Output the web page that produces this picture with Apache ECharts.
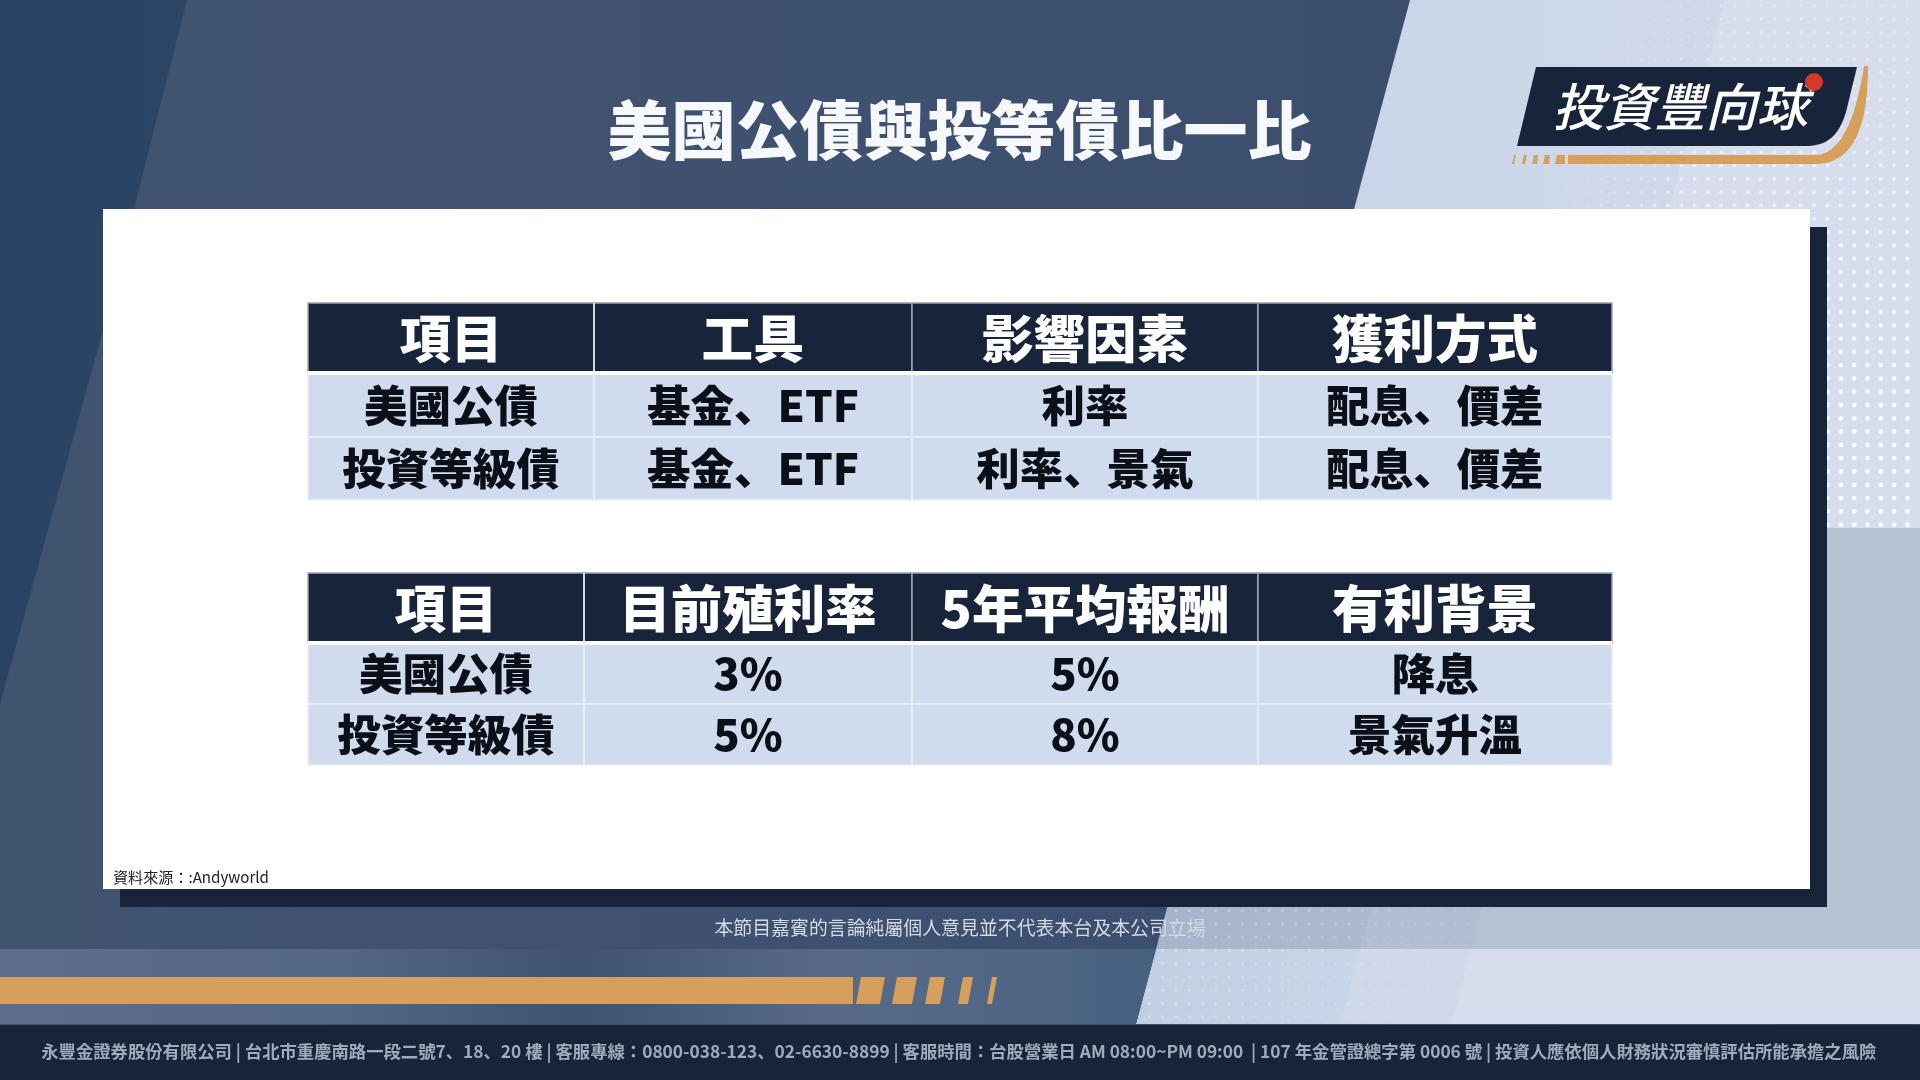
<!DOCTYPE html>
<html lang="zh-Hant"><head><meta charset="utf-8"><title>美國公債與投等債比一比</title>
<style>html,body{margin:0;padding:0;background:#3f5170}#chart{width:1920px;height:1080px}</style>
<script src="https://cdn.jsdelivr.net/npm/echarts@6/dist/echarts.min.js"></script></head>
<body><div id="chart" lang="ja"></div>
<script>
const titleText = '美國公債與投等債比一比';
const logoText = '投資豐向球';
const cornerLabel = '項目';
const rowLabels = ['美國公債', '投資等級債'];
const table1Columns = ['工具', '影響因素', '獲利方式'];
const table1Row1 = ['基金、ETF', '利率', '配息、價差'];
const table1Row2 = ['基金、ETF', '利率、景氣', '配息、價差'];
const table2Columns = ['目前殖利率', '5年平均報酬', '有利背景'];
const table2Row1 = ['3%', '5%', '降息'];
const table2Row2 = ['5%', '8%', '景氣升溫'];
const sourceText = '資料來源：:Andyworld';
const disclaimerText = '本節目嘉賓的言論純屬個人意見並不代表本台及本公司立場';
const footerText = '永豐金證券股份有限公司 | 台北市重慶南路一段二號7、18、20 樓 | 客服專線：0800-038-123、02-6630-8899 | 客服時間：台股營業日 AM 08:00~PM 09:00  | 107 年金管證總字第 0006 號 | 投資人應依個人財務狀況審慎評估所能承擔之風險';

const FONT = '"Noto Sans CJK JP"';
const NAVY = '#17243a', ROW = '#d0dcee', ORANGE = '#d69f5c';
const LG = (stops, horizontal = true) => new echarts.graphic.LinearGradient(0, 0, horizontal ? 1 : 0, horizontal ? 0 : 1,
  stops.map(([offset, color]) => ({ offset, color })));

function dotsCanvas() {
  const c = document.createElement('canvas'); c.width = 1920; c.height = 1080;
  const g = c.getContext('2d'); const step = 13.3;
  for (let y = 6; y < 1024; y += step) for (let x = 1136; x < 1920; x += step) {
    let a = 0;
    if (y < 528) {
      const edge = 1563 + (208 - y) * 0.2676;
      const t = Math.min(1, (x - edge + 10) / 130);
      if (t > 0) a = t * (0.25 + 0.65 * Math.min(1, y / 420));
    } else if (y > 908) {
      const edge = 1136 + (1024 - y) * 0.2676;
      const t = 1 - (x - edge) / 420;
      if (x > edge + 4 && t > 0) a = 0.26 * t;
    }
    if (a > 0) { g.fillStyle = `rgba(255,255,255,${a})`; g.beginPath(); g.arc(x, y, 1.5 + a, 0, 7); g.fill(); }
  }
  return c;
}
// sampled cubic curve for the logo outline (the graphic component has no free path element)
function cubic(p0, p1, p2, p3, n = 24) {
  const out = [];
  for (let i = 0; i <= n; i++) {
    const t = i / n, u = 1 - t;
    out.push([0, 1].map(k => u*u*u*p0[k] + 3*u*u*t*p1[k] + 3*u*t*t*p2[k] + t*t*t*p3[k]));
  }
  return out;
}

const poly = (points, fill) => ({ type: 'polygon', shape: { points }, style: { fill } });
const rect = (x, y, width, height, fill) => ({ type: 'rect', shape: { x, y, width, height }, style: { fill } });
const text = (x, y, t, size, fill, weight, align, extra = {}) => ({ type: 'text', x, y,
  style: Object.assign({ text: t, fontFamily: FONT, fontSize: size, fontWeight: weight, fill, align, verticalAlign: 'middle' }, extra) });

const decorations = [
  rect(0, 0, 1920, 1080, LG([[0, '#40536f'], [0.45, '#3f5170'], [1, '#394b6b']])),
  poly([[0, 0], [187, 0], [103, 330], [0, 704]], LG([[0, '#2a4264'], [1, '#2c4466']])),
  poly([[1410, 0], [1920, 0], [1920, 1024], [1136, 1024]], LG([[0, '#c2cfe3'], [0.3, '#c9d5e8'], [1, '#d4dded']])),
  poly([[1613, 0], [1920, 0], [1920, 1024], [1340, 1024]], '#cfd9ea'),
  poly([[1725, 0], [1920, 0], [1920, 1024], [1451, 1024]], '#d6deed'),
  poly([[1269, 528], [1920, 528], [1920, 949], [1156, 949]], 'rgba(26,42,80,0.16)'),
  poly([[0, 949], [1156, 949], [1136, 1024], [0, 1024]],
    LG([[0, '#5c6e8b'], [0.3, '#536684'], [0.5, '#3f5272'], [0.72, '#586a88'], [0.9, '#4f6584'], [1, '#466080']])),
  { type: 'image', style: { image: dotsCanvas(), x: 0, y: 0, width: 1920, height: 1080 } },
  rect(120, 227, 1707, 680, NAVY),
  rect(103, 209, 1707, 680, '#ffffff'),
  rect(0, 1025, 1920, 55, NAVY),
  rect(0, 977, 853, 27, ORANGE),
  poly([[861, 977], [885, 977], [880, 1004], [856, 1004]], ORANGE),
  poly([[897, 977], [917, 977], [912, 1004], [892, 1004]], ORANGE),
  poly([[930, 977], [945, 977], [940, 1004], [925, 1004]], ORANGE),
  poly([[963, 977], [973, 977], [968, 1004], [958, 1004]], ORANGE),
  poly([[992, 977], [997, 977], [992, 1004], [987, 1004]], ORANGE),
  // logo
  poly([[1536, 67], [1857, 67], ...cubic([1846, 112], [1840, 132], [1830, 146], [1806, 146]), [1517, 146]], NAVY),
  poly([[1568, 155], ...cubic([1815, 155], [1838, 155], [1855, 125], [1864, 66]),
        ...cubic([1868, 66], [1868, 130], [1852, 164], [1815, 164]), [1568, 164]], ORANGE),
  poly([[1557, 155], [1565, 155], [1565, 164], [1555, 164]], ORANGE),
  poly([[1545, 155], [1550, 155], [1549, 164], [1543, 164]], ORANGE),
  poly([[1534, 155], [1538, 155], [1537, 164], [1532, 164]], ORANGE),
  poly([[1524, 155], [1527, 155], [1525, 164], [1522, 164]], ORANGE),
  poly([[1514, 155], [1516, 155], [1514, 164], [1512, 164]], ORANGE),
  text(1680, 107, logoText, 51, '#ffffff', 500, 'center', { fontStyle: 'italic' }),
  { type: 'circle', shape: { cx: 1814, cy: 82, r: 9 }, style: { fill: '#d23b2a' } },
  text(959.5, 130, titleText, 64, '#f6f8fb', 900, 'center'),
  text(113, 877, sourceText, 15.1, '#222222', 400, 'left'),
  text(960, 928, disclaimerText, 18.9, '#d3d9e4', 400, 'center'),
  text(958.8, 1051, footerText, 17.34, '#a0aabc', 700, 'center')
].map((el, i) => Object.assign(el, { z: -100, z2: i, silent: true }));

const baseHeader = { color: '#ffffff', fontFamily: FONT, fontSize: 51.5, fontWeight: 900 };
const bodyLabel = { color: '#0b0f18', fontFamily: FONT, fontSize: 43.5, fontWeight: 900 };
const headerStyle = { color: NAVY, borderColor: '#9aa5b6', borderWidth: 1.5 };
const bodyStyle = { color: ROW, borderColor: '#e9eff8', borderWidth: 1.5 };

function tableMatrix(top, height, firstWidth, colWidths, headerHeight, rowHeight, columns, rows, headerPadding, bodyPadding) {
  const label = Object.assign({}, bodyLabel, { padding: bodyPadding });
  const headerLabel = Object.assign({}, baseHeader, { padding: headerPadding });
  return {
    left: 308, top, width: 1304, height,
    x: { data: columns.map((value, i) => ({ value, size: colWidths[i] })), levelSize: headerHeight,
         label: headerLabel, itemStyle: headerStyle, dividerLineStyle: { color: '#ffffff', width: 4 } },
    y: { data: rowLabels.map(value => ({ value, size: rowHeight })), levelSize: firstWidth,
         label, itemStyle: bodyStyle, dividerLineStyle: { color: '#e9eff8', width: 1.5 } },
    body: { label, itemStyle: bodyStyle,
      data: rows.flatMap((row, y) => row.map((value, x) => ({ coord: [x, y], value }))) },
    corner: { label: headerLabel, itemStyle: headerStyle, data: [{ coord: [-1, -1], value: cornerLabel }] },
    backgroundStyle: { color: 'transparent', borderWidth: 0 }
  };
}

const chart = echarts.init(document.getElementById('chart'), null, { renderer: 'canvas' });
chart.setOption({
  animation: false,
  graphic: { elements: decorations },
  matrix: [
    tableMatrix(303, 197, 286, [318, 346, 354], 70, 63.5, table1Columns, [table1Row1, table1Row2], [0, 0, 5, 0], [0, 0, 12, 0]),
    tableMatrix(573, 192, 276, [328, 346, 354], 70, 61, table2Columns, [table2Row1, table2Row2], [0, 0, 2, 0], [3, 0, 0, 0])
  ],
  series: []
});
</script></body></html>
